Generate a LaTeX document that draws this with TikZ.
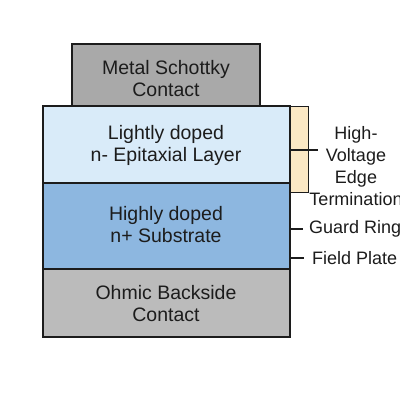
\documentclass[tikz,border=0pt]{standalone}
\usepackage{fontspec}
\setmainfont{Liberation Sans}
\definecolor{metal}{HTML}{A9A9A9}
\definecolor{ohmic}{HTML}{BBBBBB}
\definecolor{epi}{HTML}{D9EBF9}
\definecolor{subs}{HTML}{8DB7E0}
\definecolor{term}{HTML}{FBE8C4}
\definecolor{ink}{HTML}{1C1C1C}
\tikzset{
  layer/.style={draw=ink, line width=1.3pt, inner sep=0pt, outer sep=0pt},
  lbl/.style={text=ink, font=\fontsize{19.5}{22}\selectfont, align=center},
  side/.style={text=ink, font=\fontsize{18}{22}\selectfont, align=center},
  tick/.style={draw=ink, line width=1.1pt},
}
\begin{document}
\begin{tikzpicture}[x=1pt,y=1pt]
\useasboundingbox[fill=white] (0,0) rectangle (400,-400);
\filldraw[layer, fill=metal] (72,-44) rectangle (260,-106);
\filldraw[layer, fill=epi] (43,-106) rectangle (290,-183);
\filldraw[layer, fill=subs] (43,-183) rectangle (290,-269);
\filldraw[layer, fill=ohmic] (43,-269) rectangle (290,-337);
\filldraw[layer, fill=term, line width=1pt] (290,-106) rectangle (308,-192);
\node[lbl] (metal) at (166,-79) {Metal Schottky\\Contact};
\node[lbl] (epi) at (166,-145) {Lightly doped\\n- Epitaxial Layer};
\node[lbl] (subs) at (166,-225) {Highly doped\\n+ Substrate};
\node[lbl] (ohmic) at (166,-304) {Ohmic Backside\\Contact};
\coordinate (t1) at (290,-150);
\coordinate (t2) at (290,-229);
\coordinate (t3) at (290,-258);
\node[side] (hvt) at (356,-166) {High-\\Voltage\\Edge\\Termination};
\node[side, anchor=west, inner sep=0pt] (gr) at (309,-229) {Guard Ring};
\node[side, anchor=west, inner sep=0pt] (fp) at (312,-258) {Field Plate};
\draw[tick] (t1) -- ++(28,0);
\draw[tick] (t2) -- ++(13,0);
\draw[tick] (t3) -- ++(14,0);
\end{tikzpicture}
\end{document}
